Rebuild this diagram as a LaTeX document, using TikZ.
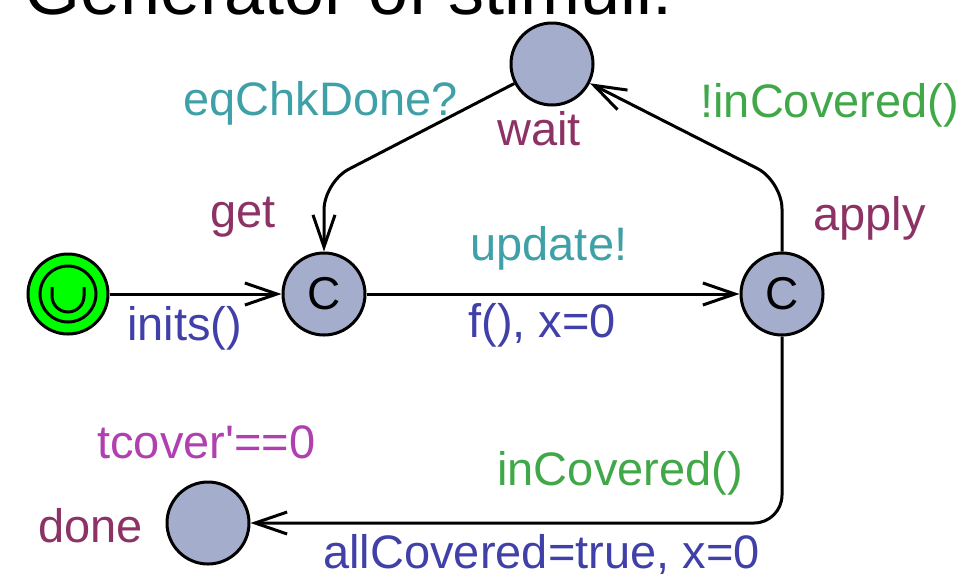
\documentclass[tikz,border=0pt]{standalone}
\usepackage{fontspec}
\setmainfont{Liberation Sans}
\usetikzlibrary{arrows.meta}

\definecolor{locname}{RGB}{140,50,100}
\definecolor{syncol}{RGB}{64,160,168}
\definecolor{guardcol}{RGB}{64,168,72}
\definecolor{updcol}{RGB}{64,64,168}
\definecolor{invcol}{RGB}{176,64,176}
\definecolor{locfill}{RGB}{164,174,204}

\tikzset{
  loc/.style={circle,draw,line width=1.5pt,fill=locfill,minimum size=41pt,inner sep=0pt,
    font=\fontsize{23}{27}\selectfont},
  initloc/.style={loc,fill=green,minimum size=40pt},
  lbl/.style={anchor=base west,inner sep=0pt,font=\fontsize{23.5}{28}\selectfont},
  trans/.style={line width=1.5pt,-{Straight Barb[length=16pt,width=11pt,line width=1.5pt]},rounded corners=14pt}
}

\begin{document}
\begin{tikzpicture}[x=0.5pt,y=-0.5pt]
        \clip (0,0) rectangle (961,579);

        \node[anchor=base west,inner sep=0pt,font=\fontsize{36}{40}\selectfont] (title) at (24,14) {Generator of stimuli:};

        % locations
        \node[initloc] (init) at (68,294) {};
        \node[loc] (get) at (324,294) {C};
        \node[loc] (apply) at (782,294) {C};
        \node[loc] (wait) at (552,64) {};
        \node[loc] (done) at (208,523) {};
        \draw[line width=1.5pt] (init.center) circle[radius=14pt];
        \draw[line width=1.5pt] (52,287) -- (52,296) arc[start angle=180,end angle=360,radius=8pt] -- (84,287);

        \coordinate (cget) at (324,182);
        \coordinate (capply) at (782,181);

        % transitions
        \draw[trans] (init) -- (get);
        \draw[trans] (get) -- (apply);
        \draw[trans] (apply) -- (capply) -- (wait);
        \draw[trans] (wait) -- (cget) -- (get);
        \draw[trans] (apply) |- (done);

        % names
        \node[lbl,text=locname] (nwait) at (497,145) {wait};
        \node[lbl,text=locname] (nget) at (210,227) {get};
        \node[lbl,text=locname] (napply) at (813,230) {apply};
        \node[lbl,text=locname] (ndone) at (38,542) {done};
        \node[lbl,text=invcol] (itcover) at (97,458) {tcover\textquotesingle==0};

        % labels
        \node[lbl,text=syncol] (seq) at (183,115) {eqChkDone?};
        \node[lbl,text=guardcol] (gnot) at (700,117) {!inCovered()};
        \node[lbl,text=syncol] (supd) at (470,260) {update!};
        \node[lbl,text=updcol] (uinits) at (127,340) {inits()};
        \node[lbl,text=updcol] (uf) at (468,337) {f(), x=0};
        \node[lbl,text=guardcol] (gin) at (497,485) {inCovered()};
        \node[lbl,text=updcol] (uall) at (323,568) {allCovered=true, x=0};
    \end{tikzpicture}
\end{document}
